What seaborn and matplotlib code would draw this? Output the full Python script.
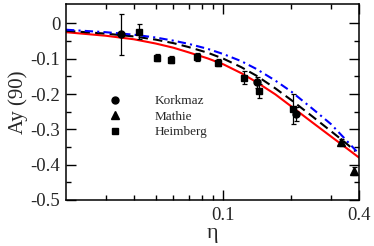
import numpy as np
import pandas as pd
import seaborn as sns
import matplotlib.pyplot as plt
from matplotlib.ticker import FixedLocator, NullFormatter, FixedFormatter

# theory curves
x_red = [0.02, 0.03, 0.04, 0.05, 0.06, 0.07, 0.085, 0.1, 0.12, 0.14, 0.17, 0.2, 0.25, 0.3, 0.35, 0.4]
y_red = [-0.025, -0.035, -0.045, -0.057, -0.069, -0.082, -0.099, -0.116, -0.141, -0.166,
         -0.201, -0.235, -0.282, -0.32, -0.352, -0.38]
x_black = [0.02, 0.03, 0.04, 0.05, 0.06, 0.07, 0.085, 0.1, 0.12, 0.14, 0.17, 0.2, 0.25, 0.3, 0.35, 0.385]
y_black = [-0.021, -0.029, -0.037, -0.046, -0.056, -0.067, -0.083, -0.1, -0.124, -0.148,
           -0.184, -0.217, -0.265, -0.305, -0.339, -0.362]
x_blue = [0.02, 0.03, 0.04, 0.05, 0.06, 0.07, 0.085, 0.1, 0.12, 0.14, 0.17, 0.2, 0.25, 0.3, 0.35, 0.39]
y_blue = [-0.018, -0.025, -0.032, -0.040, -0.049, -0.058, -0.072, -0.087, -0.107, -0.129,
          -0.162, -0.193, -0.243, -0.285, -0.33, -0.362]

# data
kork_x = [0.035, 0.1407, 0.2105]
kork_y = [-0.031, -0.167, -0.257]
kork_e = [0.058, 0.015, 0.02]
math_x = [0.333, 0.379]
math_y = [-0.336, -0.419]
math_e = [0.01, 0.011]
heim_x = [0.0423, 0.0506, 0.0586, 0.0762, 0.095, 0.124, 0.144, 0.203]
heim_y = [-0.024, -0.0975, -0.103, -0.095, -0.111, -0.154, -0.191, -0.242]
heim_e = [0.021, 0.01, 0.01, 0.011, 0.01, 0.019, 0.02, 0.043]

sns.set_style("ticks")
plt.rcParams['font.family'] = ['Liberation Serif', 'DejaVu Serif']
plt.rcParams['axes.unicode_minus'] = False

fig = plt.figure(figsize=(3.74, 2.46), dpi=100)
ax = fig.add_axes([0.1765, 0.187, 0.7835, 0.797])

curves = pd.concat([
    pd.DataFrame({"eta": x_red, "ay": y_red, "model": "red"}),
    pd.DataFrame({"eta": x_black, "ay": y_black, "model": "black"}),
    pd.DataFrame({"eta": x_blue, "ay": y_blue, "model": "blue"}),
])
sns.lineplot(data=curves, x="eta", y="ay", hue="model", style="model",
             palette={"red": "#ff0000", "black": "black", "blue": "#0000ff"},
             dashes={"red": "", "black": (4.5, 2.5), "blue": (4, 2, 1, 2)},
             linewidth=1.5, estimator=None, sort=False, legend=False, ax=ax)

eb = dict(color='black', elinewidth=0.9, capsize=1.8, capthick=0.9)
ax.errorbar(kork_x, kork_y, yerr=kork_e, fmt='o', ms=5, label='Korkmaz', **eb)
ax.errorbar(math_x, math_y, yerr=math_e, fmt='^', ms=6, label='Mathie', **eb)
ax.errorbar(heim_x, heim_y, yerr=heim_e, fmt='s', ms=4.2, label='Heimberg', **eb)

ax.set_xscale('log')
ax.set_xlim(0.02, 0.4)
ax.set_ylim(-0.5, 0.055)

ax.xaxis.set_major_locator(FixedLocator([0.1, 0.4]))
ax.xaxis.set_major_formatter(FixedFormatter(['0.1', '0.4']))
ax.xaxis.set_minor_locator(FixedLocator([0.03, 0.04, 0.05, 0.06, 0.07, 0.08, 0.09, 0.2, 0.3]))
ax.xaxis.set_minor_formatter(NullFormatter())
ax.set_yticks([0, -0.1, -0.2, -0.3, -0.4, -0.5])
ax.set_yticklabels(['0', '-0.1', '-0.2', '-0.3', '-0.4', '-0.5'])
ax.yaxis.set_minor_locator(FixedLocator([-0.05, -0.15, -0.25, -0.35, -0.45]))

ax.tick_params(which='both', direction='in', top=True, right=True, width=1.0,
               labelsize=13.5, color='black')
ax.tick_params(which='major', length=7.5, pad=4)
ax.tick_params(axis='x', which='major', pad=5)
ax.tick_params(which='minor', length=3.8)
for s in ax.spines.values():
    s.set_linewidth(1.1)
    s.set_color('black')

ax.set_xlabel('η', fontsize=16, labelpad=0)
ax.set_ylabel('Ay (90)', fontsize=15, labelpad=2)

handles, labels = ax.get_legend_handles_labels()
handles = [h[0] for h in handles]
ax.legend(handles, labels, loc='upper left', bbox_to_anchor=(0.145, 0.535),
          frameon=False, fontsize=9.5, handlelength=1.0, handletextpad=2.5,
          labelspacing=0.25, borderpad=0, borderaxespad=0)

fig.savefig('out.png', dpi=100)
